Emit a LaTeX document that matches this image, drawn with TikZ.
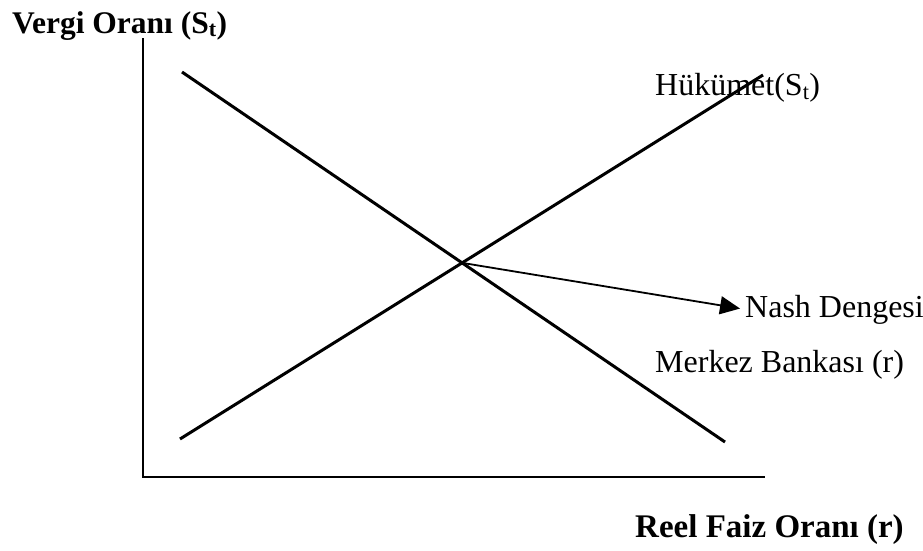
\documentclass[tikz,border=0pt]{standalone}
\usepackage{fontspec}
\setmainfont{Liberation Serif}
\usetikzlibrary{arrows.meta}
\begin{document}
\begin{tikzpicture}[x=1pt,y=-1pt,
  curve/.style={line width=3pt},
  axis/.style={line width=2.4pt},
  lbl/.style={inner sep=0pt,anchor=base west,font=\fontsize{32}{36}\selectfont},
  blbl/.style={inner sep=0pt,anchor=base west,font=\fontsize{31.5}{36}\selectfont\bfseries}]
\useasboundingbox (0,0) rectangle (923,550);
% axes
\coordinate (Y) at (143,38);
\coordinate (O) at (143,477);
\coordinate (X) at (765,477);
\draw[axis] (Y) -- (O) -- (X);
% curves
\coordinate (A1) at (182,72);
\coordinate (A2) at (725,442);
\coordinate (B1) at (180,439);
\coordinate (B2) at (763,75);
\draw[curve] (A1) -- (A2);
\draw[curve] (B1) -- (B2);
\coordinate (E) at (intersection of A1--A2 and B1--B2);
% labels
\node[blbl] (yl) at (12,33) {Vergi Oranı (S\textsubscript{t})};
\node[blbl,font=\fontsize{33}{36}\selectfont\bfseries] (xl) at (635,537) {Reel Faiz Oranı (r)};
\node[lbl] (huk) at (655,95) {Hükümet(S\textsubscript{t})};
\node[lbl] (nash) at (745,317) {Nash Dengesi};
\node[lbl] (mb) at (655,372) {Merkez Bankası (r)};
% arrow
\draw[line width=1.8pt,-{Triangle[length=20pt,width=18pt]},shorten >=5pt] (E) -- (nash.west);
\end{tikzpicture}
\end{document}
